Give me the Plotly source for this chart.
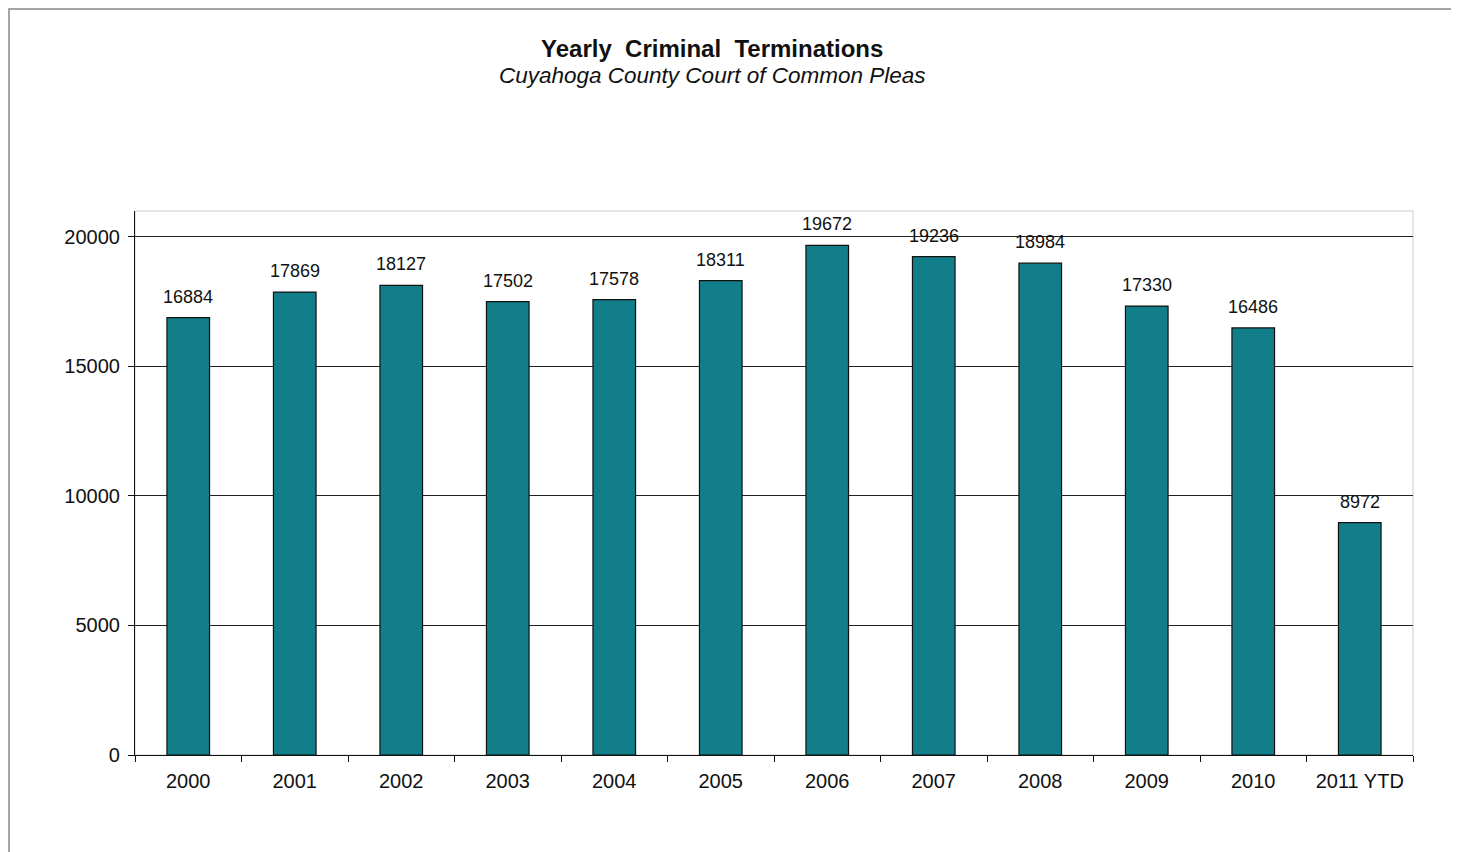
import plotly.graph_objects as go

years = ["2000", "2001", "2002", "2003", "2004", "2005", "2006",
         "2007", "2008", "2009", "2010", "2011 YTD"]
terminations = [16884, 17869, 18127, 17502, 17578, 18311, 19672,
                19236, 18984, 17330, 16486, 8972]
y_ticks = [0, 5000, 10000, 15000, 20000]

bar_color = "#117e8a"
font_family = "Liberation Sans, Arial, sans-serif"

# the page body has an 8px margin, so the figure is 8px smaller and shifted
W, H = 1451, 844
L, T, R, B = 127, 203, 46, 97
pw, ph = W - L - R, H - T - B


def px(fx):
    return (fx - L) / pw


def py(fy):
    return (H - B - fy) / ph


fig = go.Figure()
fig.add_trace(go.Bar(
    x=years,
    y=terminations,
    marker=dict(color=bar_color, line=dict(color="#111111", width=1.2)),
    showlegend=False,
))

# value labels sitting a bit above each bar (x given as category index)
for i, val in enumerate(terminations):
    fig.add_annotation(x=i, y=val, text=str(val), showarrow=False,
                       yanchor="middle", yshift=21,
                       font=dict(size=18, color="#111111"))

# titles
fig.add_annotation(xref="paper", yref="paper", x=px(704), y=py(40),
                   xanchor="center", yanchor="middle",
                   text="<b>Yearly  Criminal  Terminations</b>", showarrow=False,
                   font=dict(size=24, color="#111111"))
fig.add_annotation(xref="paper", yref="paper", x=px(704), y=py(67),
                   xanchor="center", yanchor="middle",
                   text="<i>Cuyahoga County Court of Common Pleas</i>", showarrow=False,
                   font=dict(size=22.5, color="#111111"))

# outer frame of the picture and light border of the plot area
fig.add_shape(type="rect", xref="paper", yref="paper",
              x0=px(1), x1=px(1445), y0=py(H + 10), y1=py(1),
              line=dict(color="#888888", width=1.5))
fig.add_shape(type="rect", xref="paper", yref="paper", x0=0, x1=1, y0=0, y1=1,
              line=dict(color="#cccccc", width=1), layer="below")

fig.update_layout(
    width=W, height=H,
    margin=dict(l=L, r=R, t=T, b=B),
    plot_bgcolor="white", paper_bgcolor="white",
    font=dict(family=font_family, size=20, color="#111111"),
    bargap=0.6,
)
fig.update_xaxes(
    type="category", range=[-0.5, len(years) - 0.5],
    tickson="boundaries", ticks="outside", ticklen=6,
    tickcolor="#111111", showline=True, linecolor="#111111", linewidth=1.2,
    showgrid=False, tickfont=dict(size=20), tickangle=0, ticklabelstandoff=8,
)
fig.update_yaxes(
    range=[0, 21000], tickvals=y_ticks, ticktext=[str(v) for v in y_ticks],
    ticks="outside", ticklen=6, tickcolor="#111111",
    showline=True, linecolor="#111111", linewidth=1.2,
    showgrid=True, gridcolor="#222222", gridwidth=1, zeroline=False,
    tickfont=dict(size=20), ticklabelstandoff=4,
)

fig.write_html("out.html")
